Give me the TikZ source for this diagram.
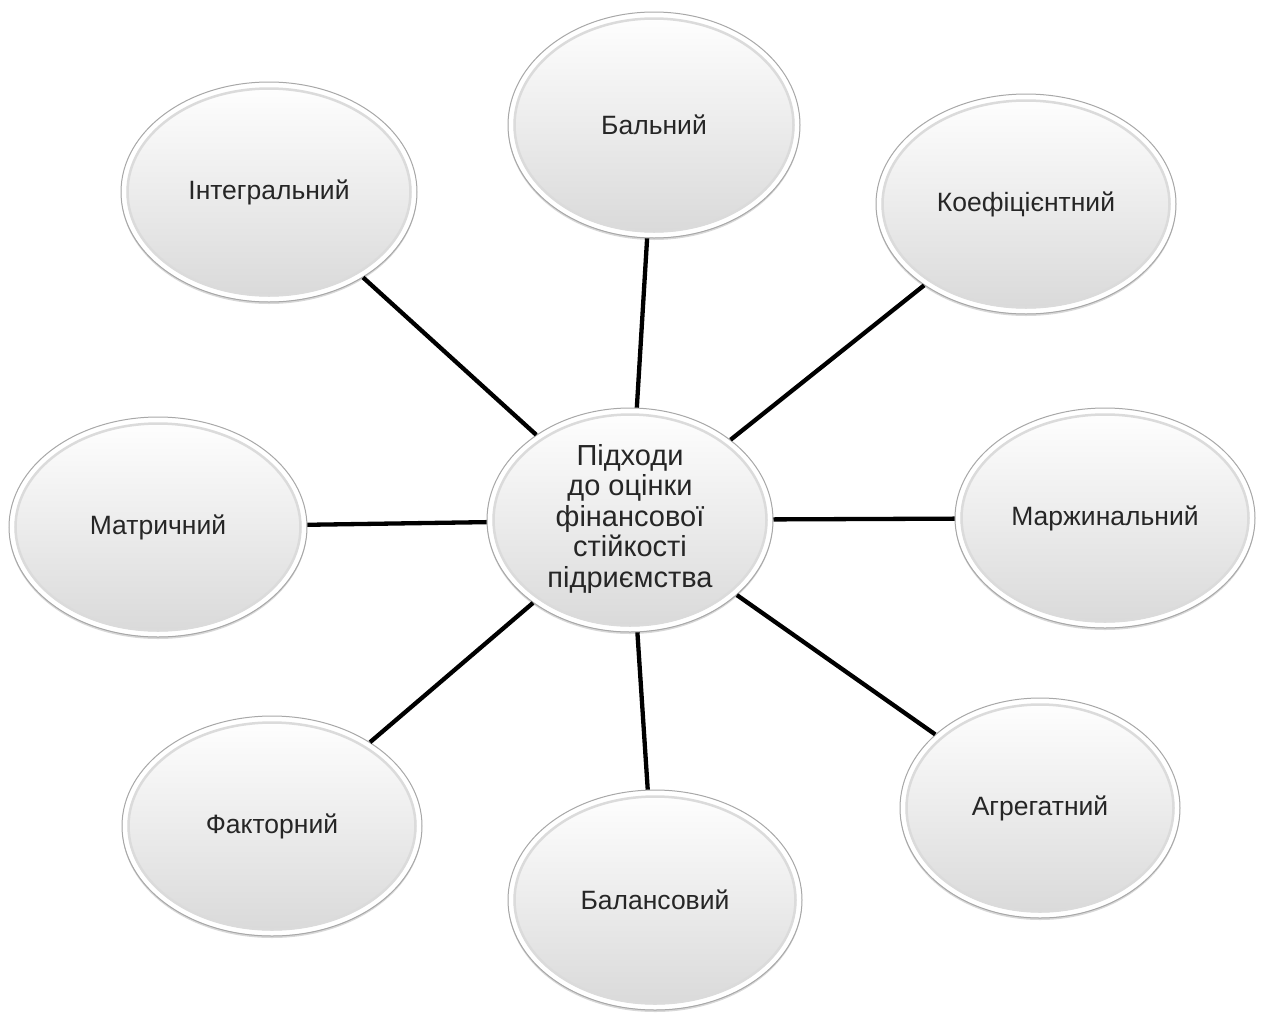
\documentclass[tikz,border=0pt]{standalone}
\usepackage{fontspec}
\setmainfont{Liberation Sans}
\usetikzlibrary{shapes.geometric,shadows}
\definecolor{rim}{HTML}{A8A8A8}
\definecolor{txt}{HTML}{262626}
\tikzset{
  bubble/.style 2 args={ellipse, draw=rim, line width=1pt, inner sep=0pt,
    top color=white, bottom color=black!15,
    minimum width=#1*2pt, minimum height=#2*2pt, text=txt,
    drop shadow={shadow xshift=0pt, shadow yshift=-2pt, opacity=.22, fill=black!70},
    path picture={
      \draw[white, line width=5pt] (path picture bounding box.center) ellipse [x radius=#1pt-3pt, y radius=#2pt-3pt];
      \draw[black!14, line width=2.5pt] (path picture bounding box.center) ellipse [x radius=#1pt-6.5pt, y radius=#2pt-6.5pt];
    }},
  outer/.style={font=\fontsize{26.5}{30}\selectfont},
  hub/.style={font=\fontsize{29}{30.5}\selectfont},
  link/.style={line width=4.3pt, black}
}
\begin{document}
\begin{tikzpicture}[x=1pt,y=-1pt]
\useasboundingbox (0,0) rectangle (1261,1015);
\node[bubble={143}{112}, hub] (c) at (630,520) {\raisebox{3pt}{\begin{tabular}{@{}c@{}}Підходи\\до оцінки\\фінансової\\стійкості\\підриємства\end{tabular}}};
\node[bubble={146}{113}, outer] (bal) at (654,125) {Бальний};
\node[bubble={148}{110}, outer] (int) at (269,192) {Інтегральний};
\node[bubble={150}{110}, outer] (koef) at (1026,204) {Коефіцієнтний};
\node[bubble={149}{110}, outer] (mat) at (158,527) {Матричний};
\node[bubble={150}{110}, outer] (marzh) at (1105,518) {Маржинальний};
\node[bubble={150}{110}, outer] (fakt) at (272,826) {Факторний};
\node[bubble={147}{110}, outer] (balans) at (655,900) {Балансовий};
\node[bubble={140}{110}, outer] (agr) at (1040,808) {Агрегатний};
\foreach \n in {bal,int,koef,mat,marzh,fakt,balans,agr}
  \draw[link] (c) -- (\n);
\end{tikzpicture}
\end{document}
